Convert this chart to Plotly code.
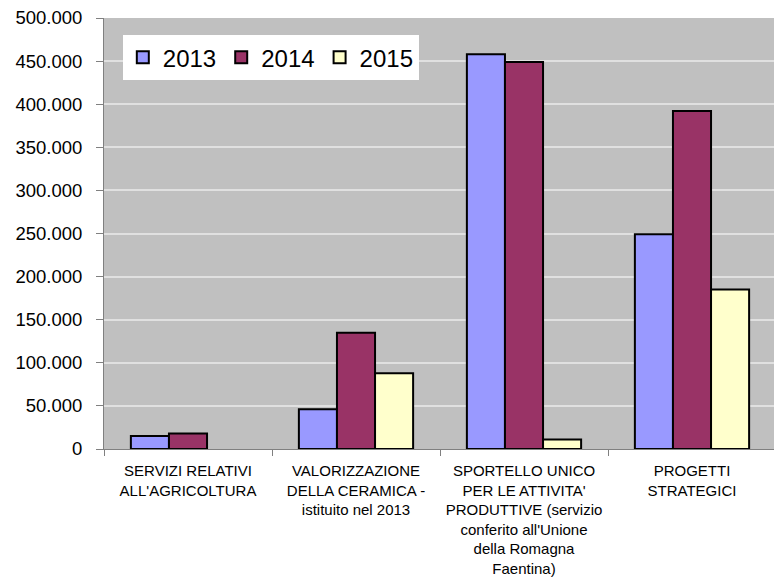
import plotly.graph_objects as go

categories = [
    "SERVIZI RELATIVI<br>ALL'AGRICOLTURA",
    "VALORIZZAZIONE<br>DELLA CERAMICA -<br>istituito nel 2013",
    "SPORTELLO UNICO<br>PER LE ATTIVITA'<br>PRODUTTIVE (servizio<br>conferito all'Unione<br>della Romagna<br>Faentina)",
    "PROGETTI<br>STRATEGICI",
]
v2013 = [15000, 46000, 458000, 249000]
v2014 = [18000, 135000, 449000, 392000]
v2015 = [None, 88000, 11000, 185000]
yticks = [0, 50000, 100000, 150000, 200000, 250000, 300000, 350000, 400000, 450000, 500000]

fig = go.Figure()
for name, vals, col in [("2013", v2013, "#9999FF"), ("2014", v2014, "#993366"), ("2015", v2015, "#FFFFCC")]:
    fig.add_trace(go.Bar(
        x=categories, y=vals, name=name,
        marker=dict(color=col, line=dict(color="black", width=2)),
    ))

fig.update_layout(
    width=774, height=575,
    margin=dict(l=96, r=6, t=10, b=134),
    paper_bgcolor="white",
    plot_bgcolor="#C0C0C0",
    barmode="group",
    bargap=0.32,
    bargroupgap=0,
    separators=",.",
    font=dict(family="Liberation Sans, Arial, sans-serif", color="black"),
    showlegend=True,
    legend=dict(
        orientation="h", x=0.028, y=0.96, xanchor="left", yanchor="top",
        bgcolor="white", font=dict(size=24), traceorder="normal",
        itemwidth=30,
    ),
)
fig.update_xaxes(
    automargin=False,
    showline=True, linecolor="#808080", linewidth=1,
    ticks="outside", tickson="boundaries", ticklen=6, tickcolor="#808080",
    tickfont=dict(size=15), ticklabelstandoff=8, showgrid=False,
)
fig.update_yaxes(
    automargin=False,
    range=[0, 500000], tickvals=yticks, tickformat=",d",
    showline=True, linecolor="#808080", linewidth=1,
    ticks="outside", ticklen=7, tickcolor="#808080",
    tickfont=dict(size=18.5), ticklabelstandoff=10, ticklabeloverflow="allow",
    showgrid=True, gridcolor="#E0E0E0", gridwidth=1.5,
    zeroline=False,
)

fig.write_html("out.html")
